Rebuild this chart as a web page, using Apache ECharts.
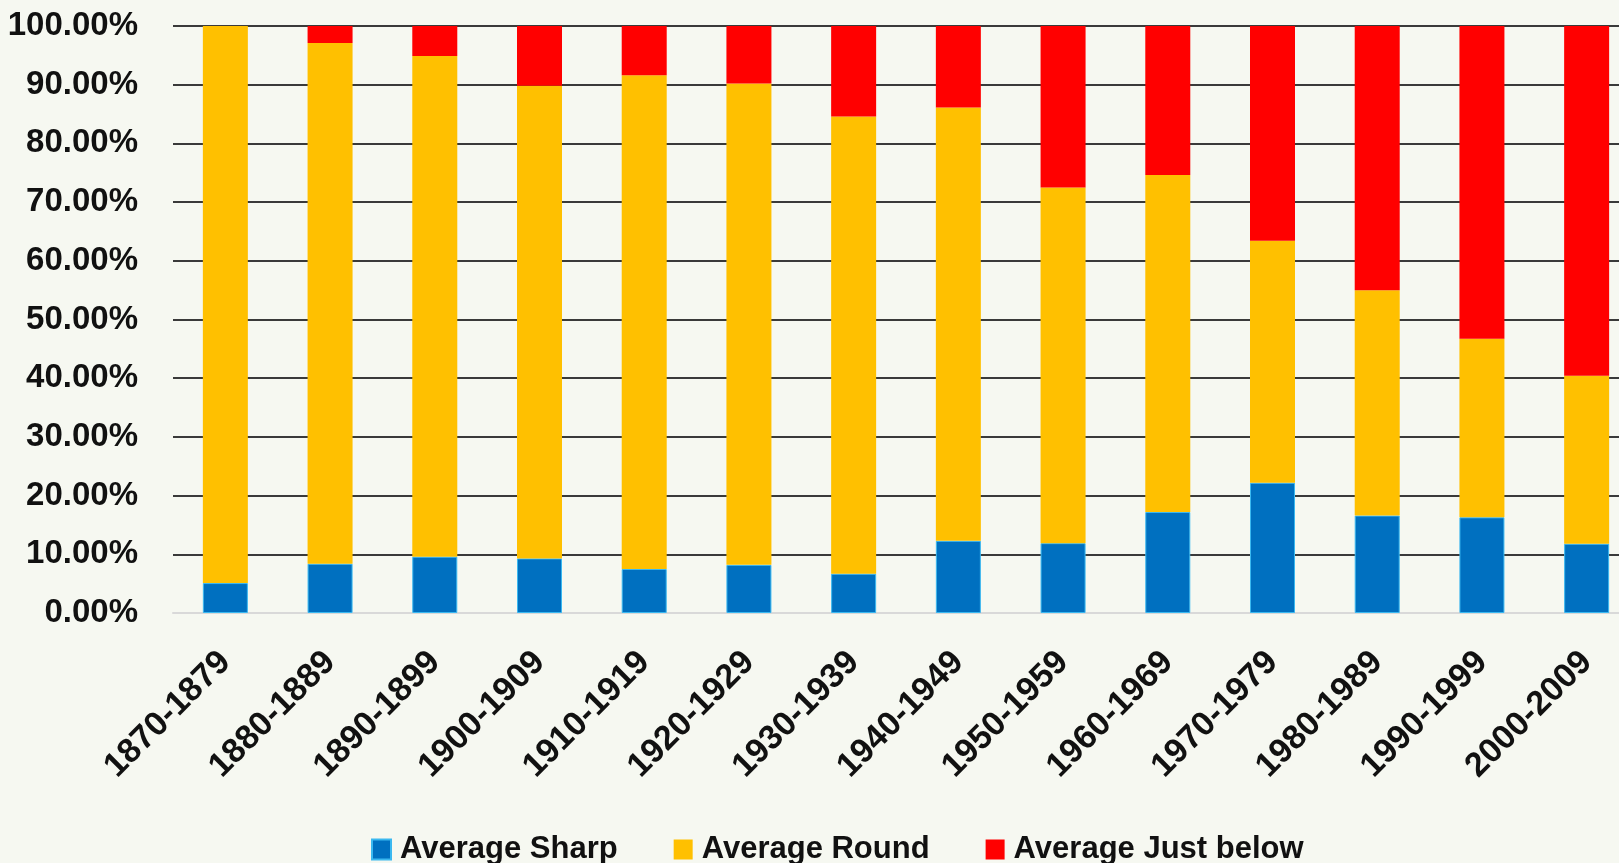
<!DOCTYPE html>
<html>
<head>
<meta charset="utf-8">
<script src="https://cdn.jsdelivr.net/npm/echarts@6/dist/echarts.min.js"></script>
<style>
  html, body { margin: 0; padding: 0; background: #f6f8f1; overflow: hidden; }
  /* the reference plot runs past the right edge of the picture */
  #chart { width: 1639px; height: 863px; }
</style>
</head>
<body>
<div id="chart"></div>
<script>
var decades = ['1870-1879', '1880-1889', '1890-1899', '1900-1909', '1910-1919', '1920-1929', '1930-1939',
    '1940-1949', '1950-1959', '1960-1969', '1970-1979', '1980-1989', '1990-1999', '2000-2009'];
var avgSharp = [5.1, 8.4, 9.6, 9.3, 7.5, 8.2, 6.7, 12.3, 11.9, 17.2, 22.2, 16.6, 16.3, 11.8];
var avgRound = [94.9, 88.7, 85.3, 80.5, 84.1, 82.0, 77.9, 73.8, 60.6, 57.4, 41.2, 38.4, 30.4, 28.6];
var avgJustBelow = [0, 2.9, 5.1, 10.2, 8.4, 9.8, 15.4, 13.9, 27.5, 25.4, 36.6, 45.0, 53.3, 59.6];

var chart = echarts.init(document.getElementById('chart'));

var option = {
    backgroundColor: '#f6f8f1',
    animation: false,
    textStyle: { fontFamily: 'Liberation Sans, Arial, sans-serif' },
    legend: {
        data: ['Average Sharp', 'Average Round', 'Average Just below'],
        left: 366,
        top: 829,
        itemWidth: 19,
        itemHeight: 20,
        itemGap: 56,
        icon: 'rect',
        textStyle: {
            fontSize: 31,
            fontWeight: 'bold',
            color: '#111',
            padding: [0, 0, 0, 4]
        }
    },
    grid: {
        left: 173,
        right: 0,
        top: 26,
        bottom: 250,
        containLabel: false
    },
    xAxis: {
        type: 'category',
        data: decades,
        axisTick: { show: false },
        axisLine: { lineStyle: { color: '#d9d9d9', width: 2 } },
        axisLabel: {
            rotate: 45,
            margin: 44,
            interval: 0,
            fontSize: 34,
            fontWeight: 'bold',
            color: '#111'
        }
    },
    yAxis: {
        type: 'value',
        min: 0,
        max: 100,
        interval: 10,
        axisLine: { show: false },
        axisTick: { show: false },
        splitLine: { lineStyle: { color: '#3a3a3a', width: 2 } },
        axisLabel: {
            margin: 35,
            fontSize: 33,
            fontWeight: 'bold',
            color: '#111',
            formatter: function (v) { return v.toFixed(2) + '%'; }
        }
    },
    series: [
        {
            name: 'Average Sharp',
            type: 'bar',
            stack: 'total',
            barWidth: 45,
            itemStyle: { color: '#0070c0', borderColor: '#3ab8f0', borderWidth: 1 },
            data: avgSharp
        },
        {
            name: 'Average Round',
            type: 'bar',
            stack: 'total',
            barWidth: 45,
            itemStyle: { color: '#ffc000' },
            data: avgRound
        },
        {
            name: 'Average Just below',
            type: 'bar',
            stack: 'total',
            barWidth: 45,
            itemStyle: { color: '#ff0000' },
            data: avgJustBelow
        }
    ]
};
chart.setOption(option);
window.onresize = chart.resize;
</script>
</body>
</html>
